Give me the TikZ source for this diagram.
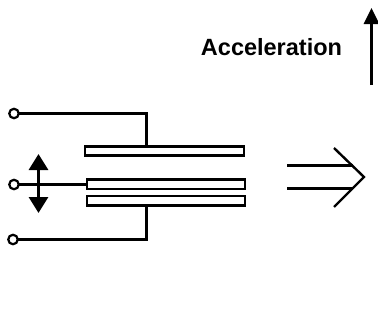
\documentclass[tikz,border=0pt]{standalone}
\usepackage{fontspec}
\setmainfont{Liberation Sans}
\usetikzlibrary{arrows.meta}
\tikzset{
  wire/.style={draw=black,line width=2.8pt},
  plate/.style={draw=black,line width=2.6pt,fill=white,inner sep=0pt,outer sep=0pt,minimum height=9.5pt},
  terminal/.style={circle,draw=black,line width=2.2pt,fill=white,inner sep=0pt,outer sep=0pt,minimum size=9.5pt},
  thin wire/.style={draw=black,line width=2.8pt},
  tip/.style={-{Triangle[length=16pt,width=19pt]}},
}
\begin{document}
\begin{tikzpicture}[x=1pt,y=-1pt]
\useasboundingbox (0,0) rectangle (378,324);
% plates
\node[plate,minimum width=159pt] (p1) at (164.5,151) {};
\node[plate,minimum width=158pt] (p2) at (166,184.2) {};
\node[plate,minimum width=158pt] (p3) at (166,200.7) {};
% terminals
\node[terminal] (t1) at (14,113.5) {};
\node[terminal] (t2) at (14,184.5) {};
\node[terminal] (t3) at (13,239.5) {};
% junctions on the plates
\coordinate (j1) at (146.5,146);
\coordinate (j3) at (146.5,205.5);
\draw[wire] (t1) -| (j1);
\draw[wire] (t2) -- (p2.west |- t2);
\draw[wire] (t3) -| (j3);
% double-headed motion arrow
\coordinate (mu) at (38.5,154);
\coordinate (md) at (38.5,213);
\coordinate (mc) at (38.5,184);
\draw[wire,line width=3pt,tip] (mc) -- (mu);
\draw[wire,line width=3pt,tip] (mc) -- (md);
% output arrow
\coordinate (a1) at (287,165.5);
\coordinate (a2) at (287,188.5);
\coordinate (b1) at (353,165.5);
\coordinate (b2) at (353,188.5);
\coordinate (c1) at (334,148);
\coordinate (c2) at (364,177);
\coordinate (c3) at (334,207);
\draw[thin wire] (a1) -- (b1);
\draw[thin wire] (a2) -- (b2);
\draw[draw=black,line width=2.4pt,miter limit=10] (c1) -- (c2) -- (c3);
% acceleration
\node[inner sep=0pt,font=\fontsize{23.5pt}{28pt}\selectfont\bfseries] (lab) at (271.5,47) {Acceleration};
\coordinate (ab) at (371.5,85);
\coordinate (at) at (371.5,8);
\draw[draw=black,line width=2.8pt,-{Triangle[length=16pt,width=15pt]}] (ab) -- (at);
\end{tikzpicture}
\end{document}
